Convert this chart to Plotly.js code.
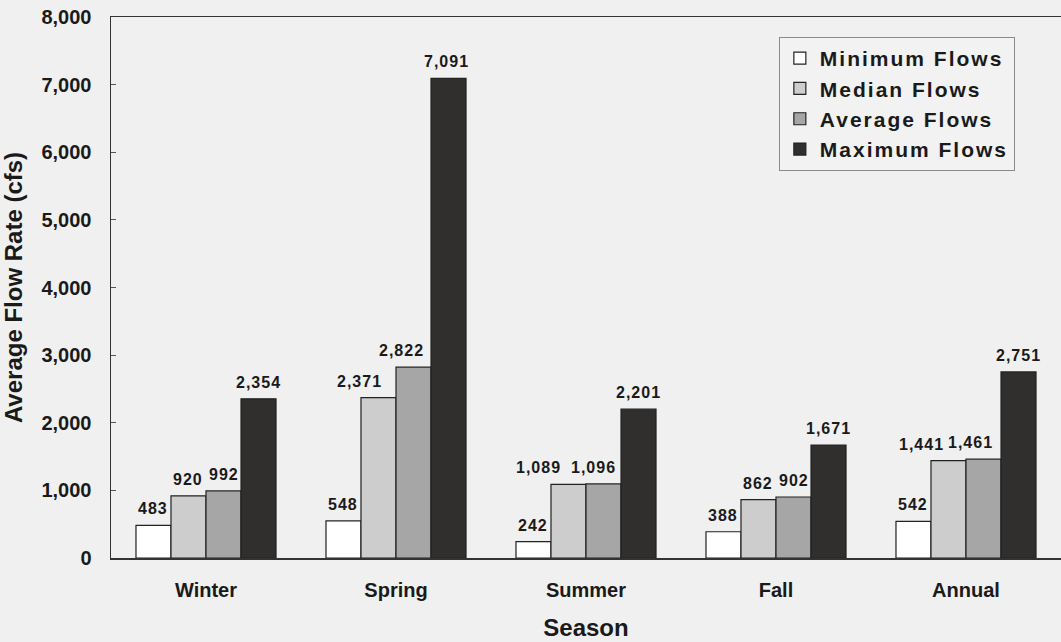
<!DOCTYPE html>
<html>
<head>
<meta charset="utf-8">
<script src="https://cdn.plot.ly/plotly-3.0.1.min.js"></script>
<style>
html,body{margin:0;padding:0;background:#f0f0f0;}
.legendtext{letter-spacing:2px;}
.annotation-text{letter-spacing:1px;}
</style>
</head>
<body>
<div id="chart" style="width:1061px;height:642px;"></div>
<script>
const seasons = ["Winter", "Spring", "Summer", "Fall", "Annual"];
const minimumFlows = [483, 548, 242, 388, 542];
const medianFlows = [920, 2371, 1089, 862, 1441];
const averageFlows = [992, 2822, 1096, 902, 1461];
const maximumFlows = [2354, 7091, 2201, 1671, 2751];
const seriesNames = ["Minimum Flows", "Median Flows", "Average Flows", "Maximum Flows"];
const seriesColors = ["#ffffff", "#cdcdcd", "#a6a6a6", "#312e2e"];
const seriesValues = [minimumFlows, medianFlows, averageFlows, maximumFlows];
// horizontal nudges (px) of value labels, as placed in the original
const labelNudge = [
  [0, 0, 0, 0, 0],
  [0, -19, -30, 0, -27],
  [0, -12, -10, 0, -13],
  [0, -2, 0, 0, 0]
];

const font = "Liberation Sans, Arial, sans-serif";
const ink = "#1a1a1a";
const W = 1061, H = 642;
const margin = {l: 111, r: 0, t: 17, b: 84};
const bargap = 0.263;

const traces = seriesValues.map((vals, i) => ({
  type: "bar",
  name: seriesNames[i],
  legendgroup: "g" + i,
  x: seasons,
  y: vals,
  marker: {color: seriesColors[i], line: {color: "#222", width: 1.2}},
  hoverinfo: "x+y"
}));

const plotW = W - margin.l - margin.r;
const barPx = (plotW / seasons.length) * (1 - bargap) / seriesValues.length;
const annotations = [];
seriesValues.forEach((vals, i) => {
  vals.forEach((v, j) => {
    annotations.push({
      x: seasons[j], y: v, xref: "x", yref: "y",
      text: v.toLocaleString("en-US"),
      showarrow: false, yanchor: "bottom", xanchor: "center",
      xshift: (i - (seriesValues.length - 1) / 2) * barPx + labelNudge[i][j],
      yshift: 6,
      font: {family: font, size: 16, color: ink, weight: "bold"}
    });
  });
});

const layout = {
  width: W, height: H,
  margin: margin,
  paper_bgcolor: "#f0f0f0",
  plot_bgcolor: "#f0f0f0",
  barmode: "group",
  bargap: bargap,
  bargroupgap: 0,
  showlegend: true,
  annotations: annotations,
  legend: {
    x: 0.703, y: 0.963, xanchor: "left", yanchor: "top",
    bgcolor: "#f2f2f2", bordercolor: "#8a8a8a", borderwidth: 1,
    font: {family: font, size: 21, color: ink, weight: "bold"},
    itemwidth: 30, tracegroupgap: 15, traceorder: "normal"
  },
  xaxis: {
    showline: true, linecolor: "#333", linewidth: 1.5, mirror: true,
    ticks: "", ticklabelstandoff: 13,
    tickfont: {family: font, size: 20, color: ink, weight: "bold"},
    title: {text: "Season", font: {family: font, size: 24, color: ink, weight: "bold"}, standoff: 19},
    fixedrange: true
  },
  yaxis: {
    range: [0, 8000], dtick: 1000, tickformat: ",d",
    showline: true, linecolor: "#333", linewidth: 1.5,
    ticks: "inside", ticklen: 5, tickcolor: "#555", ticklabelstandoff: 14,
    showgrid: false, zeroline: false,
    tickfont: {family: font, size: 20, color: ink, weight: "bold"},
    title: {text: "Average Flow Rate (cfs)", font: {family: font, size: 24, color: ink, weight: "bold"}, standoff: 12},
    fixedrange: true
  }
};

Plotly.newPlot("chart", traces, layout, {displayModeBar: false, staticPlot: true});
</script>
</body>
</html>
